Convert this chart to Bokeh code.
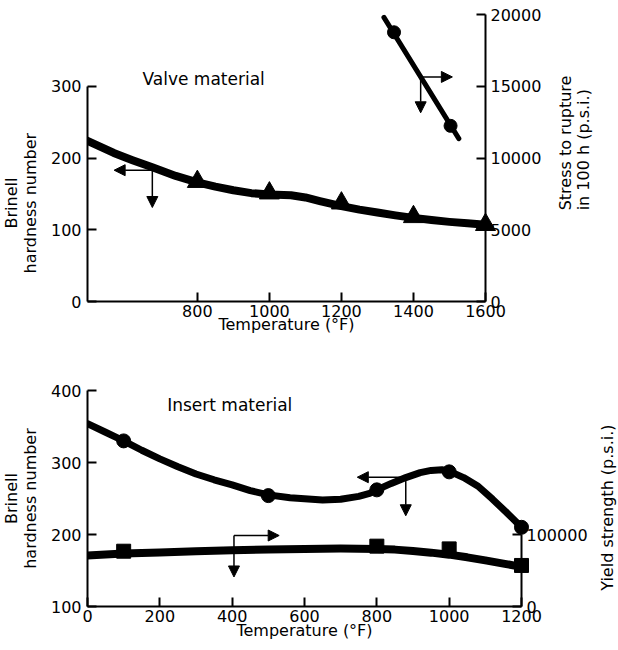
import math
from bokeh.plotting import figure
from bokeh.models import (Range1d, LinearAxis, FixedTicker, Label, Arrow, Title,
                          NormalHead, BasicTickFormatter)
from bokeh.layouts import column, row
from bokeh.embed import file_html
from bokeh.resources import INLINE

FONT = "DejaVu Sans"

# ---------------- Valve material (top panel) ----------------
valve_curve_temp = [495, 530, 568, 620, 675, 740, 800, 850, 900, 950, 1000, 1060, 1100,
                    1140, 1200, 1250, 1300, 1350, 1400, 1450, 1500, 1550, 1600]
valve_curve_bhn = [224, 216, 207, 197, 187, 175, 166, 160, 155, 151, 149, 148, 145,
                   140, 133, 128, 124, 120, 116.5, 113.5, 111, 109, 107]
valve_pts_temp = [800, 1000, 1200, 1400, 1600]
valve_pts_bhn = [167, 151, 137, 118, 107]
rupture_line_temp = [1318, 1526]
rupture_line_psi = [19800, 11350]
rupture_pts_temp = [1346, 1503]
rupture_pts_psi = [18760, 12240]
valve_xticks = [800, 1000, 1200, 1400, 1600]
valve_bhn_ticks = [0, 100, 200, 300]
rupture_ticks = [0, 5000, 10000, 15000, 20000]

# ---------------- Insert material (bottom panel) ----------------
insert_curve_temp = [0, 50, 100, 150, 200, 250, 300, 350, 400, 450, 500, 560, 600, 650,
                     700, 750, 780, 800, 840, 880, 920, 950, 980, 1000, 1040, 1080,
                     1120, 1160, 1200]
insert_curve_bhn = [354, 342, 330, 317, 305, 294, 284, 276, 269, 261, 255, 251, 249.5, 248,
                    249, 253, 257, 262, 271, 279, 286, 289, 290, 288, 279, 267,
                    249, 230, 210]
insert_pts_temp = [100, 500, 800, 1000, 1200]
insert_pts_bhn = [330, 254, 262, 287, 210]
yield_curve_temp = [0, 100, 200, 300, 400, 500, 600, 700, 800, 850, 900, 950, 1000,
                    1050, 1100, 1150, 1200]
yield_curve_psi = [71000, 73500, 75000, 76700, 78000, 79200, 80000, 80500, 80000, 79000,
                   77000, 74800, 72000, 68300, 64000, 59600, 55000]
yield_pts_temp = [100, 800, 1000, 1200]
yield_pts_psi = [76800, 83800, 80000, 57000]
insert_xticks = [0, 200, 400, 600, 800, 1000, 1200]
insert_bhn_ticks = [100, 200, 300, 400]
yield_ticks = [0, 100000]


def style_axis(ax, ticks, bounds="auto", label_standoff=5):
    ax.ticker = FixedTicker(ticks=ticks)
    ax.formatter = BasicTickFormatter(use_scientific=False)
    ax.bounds = bounds
    ax.axis_line_width = 2
    ax.axis_line_color = "black"
    ax.major_tick_line_width = 2
    ax.major_tick_line_color = "black"
    ax.major_tick_in = 9
    ax.major_tick_out = 0
    ax.minor_tick_line_color = None
    ax.major_label_text_font = FONT
    ax.major_label_text_font_size = "16px"
    ax.major_label_text_color = "black"
    ax.major_label_standoff = label_standoff
    ax.axis_label_text_font = FONT
    ax.axis_label_text_font_size = "16px"
    ax.axis_label_text_font_style = "normal"
    ax.axis_label_text_color = "black"


def add_title(p, text, side, align, offset, standoff):
    p.add_layout(Title(text=text, align=align, offset=offset, standoff=standoff,
                       vertical_align="bottom", text_font=FONT, text_font_size="16px",
                       text_font_style="normal", text_color="black"), side)


def add_label(p, x, y, text, size="17px", angle=0.0, align="left"):
    p.add_layout(Label(x=x, y=y, text=text, angle=angle, text_align=align,
                       text_baseline="middle", text_font=FONT, text_font_size=size,
                       text_color="black"))


def add_arrow(p, x0, y0, x1, y1):
    p.add_layout(Arrow(x_start=x0, y_start=y0, x_end=x1, y_end=y1, line_width=1.5,
                       line_color="black",
                       end=NormalHead(size=11, fill_color="black", line_color="black",
                                      line_width=1)))


def text_strip(width, height):
    s = figure(width=width, height=height, x_range=Range1d(0, width),
               y_range=Range1d(0, height), output_backend="svg", toolbar_location=None,
               x_axis_type=None, y_axis_type=None, min_border=0)
    s.grid.visible = False
    s.outline_line_color = None
    return s


# ---------------- top figure ----------------
p1 = figure(width=548, height=340, x_range=Range1d(495, 1600), y_range=Range1d(0, 400),
            output_backend="svg", toolbar_location=None,
            min_border_left=87, min_border_right=63, min_border_top=14, min_border_bottom=39)
p1.extra_y_ranges = {"stress": Range1d(0, 20000)}
p1.add_layout(LinearAxis(y_range_name="stress"), "right")
p1.grid.visible = False
p1.outline_line_color = None
style_axis(p1.xaxis[0], valve_xticks, label_standoff=3)
style_axis(p1.yaxis[0], valve_bhn_ticks, (0, 300), label_standoff=6)
style_axis(p1.yaxis[1], rupture_ticks, label_standoff=5)
p1.xaxis[0].axis_label = "Temperature (°F)"
p1.xaxis[0].axis_label_standoff = -5

add_title(p1, "hardness number", "left", "left", 28, 16)
add_title(p1, "Brinell", "left", "left", 73, -20)

p1.line(valve_curve_temp, valve_curve_bhn, line_width=8, line_color="black",
        line_join="round", line_cap="round")
p1.scatter(valve_pts_temp, valve_pts_bhn, marker="triangle", size=20, color="black",
           level="overlay")
p1.line(rupture_line_temp, rupture_line_psi, y_range_name="stress", line_width=5,
        line_color="black", line_cap="round")
p1.scatter(rupture_pts_temp, rupture_pts_psi, y_range_name="stress", marker="circle",
           size=13, color="black", level="overlay")

add_arrow(p1, 675, 183, 569, 183)
add_arrow(p1, 675, 183, 675, 131)
add_arrow(p1, 1420, 313, 1508, 313)
add_arrow(p1, 1420, 313, 1420, 263)
add_label(p1, 647.7, 310.8, "Valve material")

# right-hand axis title of the top panel (reads upward)
s1 = text_strip(70, 340)
add_label(s1, 17, 108, "Stress to rupture", size="16px", angle=math.pi / 2)
add_label(s1, 35, 108, "in 100 h (p.s.i.)", size="16px", angle=math.pi / 2)

# ---------------- bottom figure ----------------
p2 = figure(width=596, height=308, x_range=Range1d(0, 1200), y_range=Range1d(100, 400),
            output_backend="svg", toolbar_location=None,
            min_border_left=87, min_border_right=75, min_border_top=50, min_border_bottom=42)
p2.extra_y_ranges = {"yield": Range1d(0, 300000)}
p2.add_layout(LinearAxis(y_range_name="yield"), "right")
p2.grid.visible = False
p2.outline_line_color = None
style_axis(p2.xaxis[0], insert_xticks, label_standoff=3)
style_axis(p2.yaxis[0], insert_bhn_ticks, label_standoff=6)
style_axis(p2.yaxis[1], yield_ticks, (0, 100000), label_standoff=5)
p2.xaxis[0].axis_label = "Temperature (°F)"
p2.xaxis[0].axis_label_standoff = -4

add_title(p2, "hardness number", "left", "center", 0, 16)
add_title(p2, "Brinell", "left", "center", 0, -20)

p2.line(insert_curve_temp, insert_curve_bhn, line_width=7, line_color="black",
        line_join="round", line_cap="round")
p2.scatter(insert_pts_temp, insert_pts_bhn, marker="circle", size=14, color="black",
           level="overlay")
p2.line(yield_curve_temp, yield_curve_psi, y_range_name="yield", line_width=8,
        line_color="black", line_join="round", line_cap="round")
p2.scatter(yield_pts_temp, yield_pts_psi, y_range_name="yield", marker="square",
           size=14, color="black", level="overlay")

add_arrow(p2, 880, 279.6, 746, 279.6)
add_arrow(p2, 880, 279.6, 880, 226)
add_arrow(p2, 405, 198.6, 530, 198.6)
add_arrow(p2, 405, 198.6, 405, 141)
add_label(p2, 220.4, 379.2, "Insert material")

# right-hand axis title of the bottom panel (reads upward)
s2 = text_strip(22, 308)
add_label(s2, 11, 141, "Yield strength (p.s.i.)", size="16px", angle=math.pi / 2,
          align="center")

layout = column(row(p1, s1), row(p2, s2))
open("out.html", "w").write(file_html(layout, INLINE))
